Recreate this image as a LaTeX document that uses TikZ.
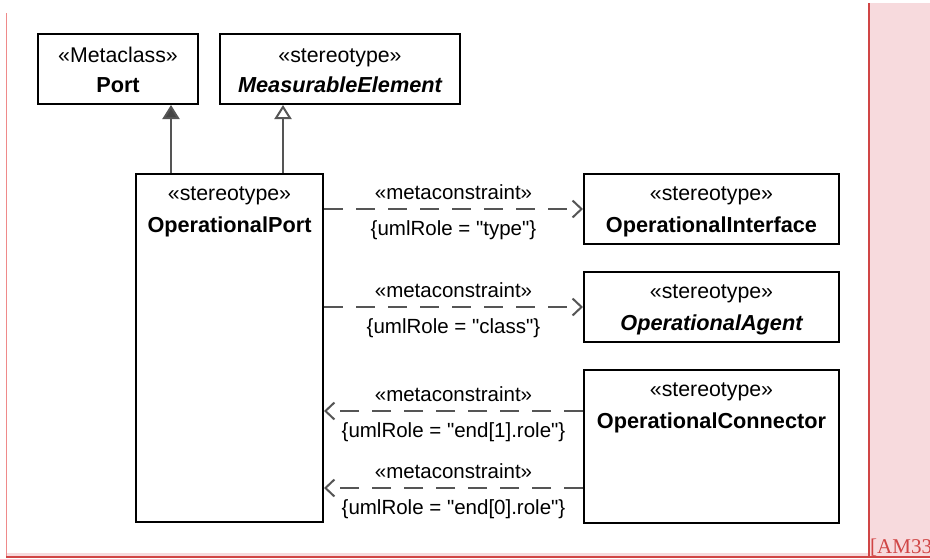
\documentclass[tikz,border=0pt]{standalone}
\usepackage{fontspec}
\setmainfont{Liberation Sans}[Ligatures=TeXOff]
\newfontfamily\notefont{Liberation Serif}
\usetikzlibrary{arrows.meta}
\definecolor{pinkbg}{HTML}{F7DADD}
\definecolor{redline}{HTML}{D04545}
\definecolor{leftline}{HTML}{EF8A8A}
\definecolor{conn}{HTML}{555555}
\definecolor{headfill}{HTML}{444444}
\tikzset{
  box/.style={draw=black, line width=2pt, fill=white, rectangle, inner sep=0pt, anchor=north west},
  txt/.style={font=\fontsize{20.5}{24}\selectfont, anchor=base, inner sep=0pt},
  stxt/.style={txt, font=\fontsize{21.3}{24}\selectfont},
  btxt/.style={txt, font=\fontsize{21.7}{24}\selectfont\bfseries},
  bitxt/.style={txt, font=\fontsize{21.7}{24}\selectfont\bfseries\itshape},
  genfilled/.style={draw=conn, line width=2pt, -{Triangle[length=14pt,width=17pt,fill=headfill]}},
  genopen/.style={draw=conn, line width=2pt, -{Triangle[open,length=14pt,width=17pt,fill=white]}},
  dep/.style={draw=conn, line width=2pt, dash pattern=on 19pt off 13pt, -{Straight Barb[length=9pt,width=17pt,line width=2pt]}}
}
\begin{document}
\begin{tikzpicture}[x=1pt,y=-1pt]
\clip (0,0) rectangle (930,558);
\fill[white] (0,0) rectangle (930,558);
% page decorations
\fill[pinkbg] (869,3) rectangle (930,558);
\fill[pinkbg] (7,553) rectangle (869,556.5);
\draw[leftline, line width=1.5pt] (6.5,13) -- (6.5,556);
\draw[redline, line width=1.5pt] (869,3) -- (869,556.5);
\draw[redline, line width=1.5pt] (6,556.8) -- (930,556.8);
\node[anchor=base west, inner sep=0pt, text=redline, font=\notefont\fontsize{21}{24}\selectfont] (note) at (870,553) {[AM33};

% boxes
\node[box, minimum width=160pt, minimum height=70pt] (port) at (37,33) {};
\node[box, minimum width=240pt, minimum height=70pt] (meas) at (219,33) {};
\node[box, minimum width=187pt, minimum height=348pt] (oport) at (135,173) {};
\node[box, minimum width=255pt, minimum height=70pt] (oint) at (583,173) {};
\node[box, minimum width=255pt, minimum height=70pt] (oagent) at (583,271) {};
\node[box, minimum width=255pt, minimum height=153pt] (ocon) at (583,369) {};

% box texts
\node[stxt] (portS) at ([yshift=-29pt]port.north) {«Metaclass»};
\node[btxt] (portN) at ([yshift=-59pt]port.north) {Port};
\node[stxt] (measS) at ([yshift=-29pt]meas.north) {«stereotype»};
\node[bitxt] (measN) at ([yshift=-59pt]meas.north) {MeasurableElement};
\node[stxt] (oportS) at ([yshift=-27pt]oport.north) {«stereotype»};
\node[btxt] (oportN) at ([yshift=-59pt]oport.north) {OperationalPort};
\node[stxt] (ointS) at ([yshift=-27pt]oint.north) {«stereotype»};
\node[btxt] (ointN) at ([yshift=-59pt]oint.north) {OperationalInterface};
\node[stxt] (oagentS) at ([yshift=-27pt]oagent.north) {«stereotype»};
\node[bitxt] (oagentN) at ([yshift=-59pt]oagent.north) {OperationalAgent};
\node[stxt] (oconS) at ([yshift=-27pt]ocon.north) {«stereotype»};
\node[btxt] (oconN) at ([yshift=-59pt]ocon.north) {OperationalConnector};

% generalizations
\draw[genfilled] ([xshift=36pt]oport.north west) -- ([xshift=36pt]oport.north west |- port.south);
\draw[genopen] ([xshift=148pt]oport.north west) -- ([xshift=148pt]oport.north west |- meas.south);

% dependencies
\draw[dep] (oint.west -| oport.east) -- (oint.west)
  node[txt, pos=0.5, yshift=10pt] {«metaconstraint»}
  node[txt, pos=0.5, yshift=-26pt] {\{umlRole = "type"\}};
\draw[dep] (oagent.west -| oport.east) -- (oagent.west)
  node[txt, pos=0.5, yshift=10pt] {«metaconstraint»}
  node[txt, pos=0.5, yshift=-26pt] {\{umlRole = "class"\}};
\draw[dep] ([yshift=-42pt]ocon.north west) -- ([yshift=-42pt]ocon.north west -| oport.east)
  node[txt, pos=0.5, yshift=10pt] {«metaconstraint»}
  node[txt, pos=0.5, yshift=-26pt] {\{umlRole = "end[1].role"\}};
\draw[dep] ([yshift=-119pt]ocon.north west) -- ([yshift=-119pt]ocon.north west -| oport.east)
  node[txt, pos=0.5, yshift=10pt] {«metaconstraint»}
  node[txt, pos=0.5, yshift=-26pt] {\{umlRole = "end[0].role"\}};
\end{tikzpicture}
\end{document}
